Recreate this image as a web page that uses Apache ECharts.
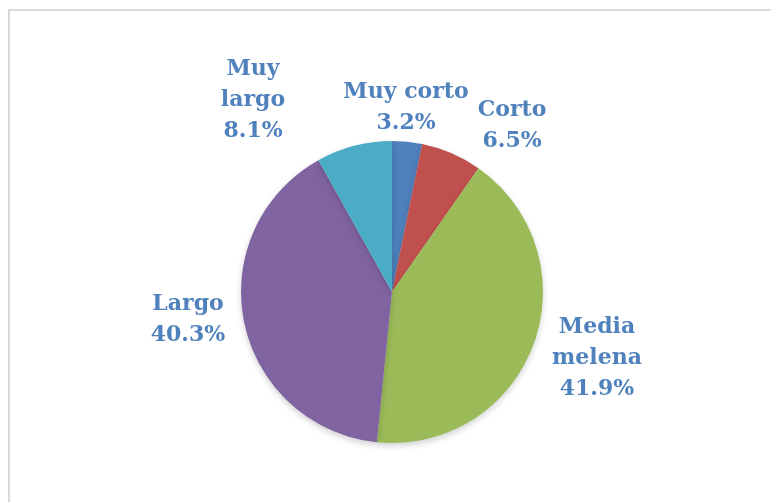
<!DOCTYPE html>
<html>
<head>
<meta charset="utf-8">
<script src="https://cdn.jsdelivr.net/npm/echarts@6/dist/echarts.min.js"></script>
<style>
  html, body { margin: 0; padding: 0; background: #fff; }
  #chart { width: 771px; height: 502px; }
</style>
</head>
<body>
<div id="chart"></div>
<script>
const categories = ['Muy corto', 'Corto', 'Media melena', 'Largo', 'Muy largo']
const labelNames = ['Muy corto', 'Corto', 'Media\nmelena', 'Largo', 'Muy\nlargo']
const values = [3.2, 6.5, 41.9, 40.3, 8.1]
const colors = ['#4F81BD', '#C0504D', '#9BBB59', '#8064A2', '#4BACC6']

// label anchor points (layout only)
const labelPos = [[406, 108], [512, 126], [597, 358], [188, 320], [253, 100]]

const chart = echarts.init(document.getElementById('chart'))

chart.setOption({
  animation: false,
  graphic: [{
    type: 'rect',
    shape: { x: 9, y: 10, width: 800, height: 600 },
    style: { fill: 'none', stroke: '#d9d9d9', lineWidth: 2 },
  }],
  series: [{
    type: 'pie',
    center: [392, 292],
    radius: 151,
    startAngle: 90,
    clockwise: true,
    data: categories.map((c, i) => ({
      name: c,
      value: values[i],
      itemStyle: { color: colors[i] },
    })),
    itemStyle: {
      borderWidth: 0,
      shadowBlur: 6,
      shadowColor: 'rgba(0,0,0,0.18)',
      shadowOffsetY: 3,
    },
    label: {
      show: true,
      position: 'outside',
      formatter: (p) => `${labelNames[p.dataIndex]}\n${p.value.toFixed(1)}%`,
      fontFamily: 'DejaVu Serif',
      fontWeight: 900,
      fontSize: 22,
      lineHeight: 31,
      color: '#4F81BD',
      align: 'center',
    },
    labelLine: { show: false },
    labelLayout: (params) => ({
      x: labelPos[params.dataIndex][0],
      y: labelPos[params.dataIndex][1],
      align: 'center',
      verticalAlign: 'middle',
    }),
  }],
})
</script>
</body>
</html>
